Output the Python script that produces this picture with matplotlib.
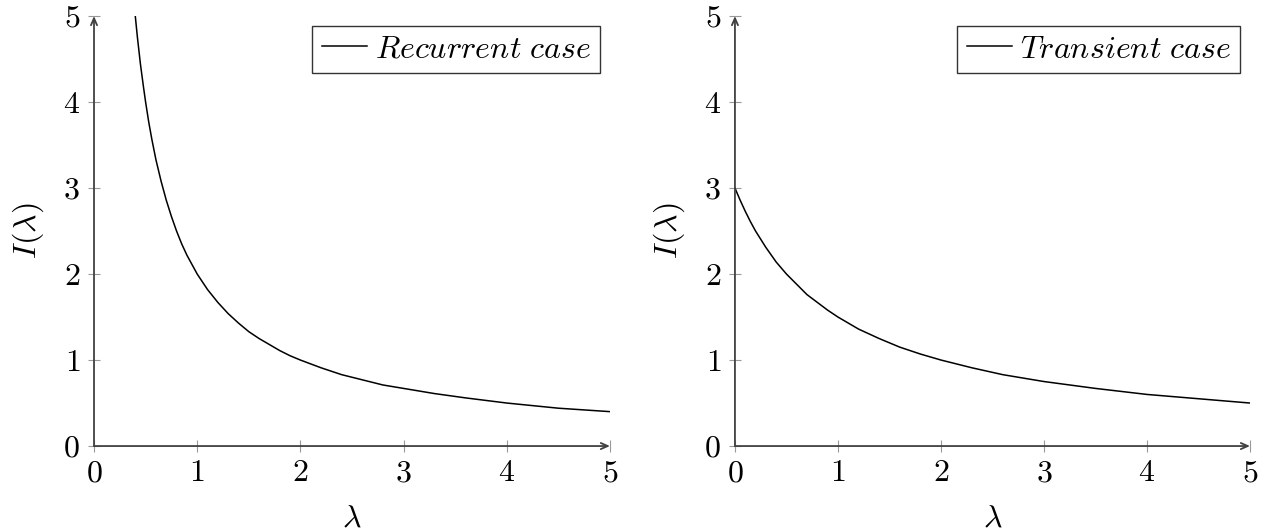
import matplotlib.pyplot as plt

plt.rcParams['mathtext.fontset'] = 'cm'
plt.rcParams['font.family'] = 'serif'
plt.rcParams['font.serif'] = ['cmr10', 'DejaVu Serif']

lam_rec = [0.4, 0.42, 0.45, 0.48, 0.5, 0.53, 0.56, 0.6, 0.65, 0.7, 0.75, 0.8, 0.85, 0.9,
           0.95, 1.0, 1.1, 1.2, 1.3, 1.4, 1.5, 1.6, 1.7, 1.8, 1.9, 2.0, 2.2, 2.4, 2.6,
           2.8, 3.0, 3.3, 3.6, 4.0, 4.5, 5.0]
I_rec = [5.0, 4.76, 4.44, 4.17, 4.0, 3.77, 3.57, 3.33, 3.08, 2.86, 2.67, 2.5, 2.35, 2.22,
         2.11, 2.0, 1.82, 1.67, 1.54, 1.43, 1.33, 1.25, 1.18, 1.11, 1.05, 1.0, 0.91, 0.83,
         0.77, 0.71, 0.67, 0.61, 0.56, 0.5, 0.44, 0.4]

lam_tr = [0.0, 0.05, 0.1, 0.15, 0.2, 0.3, 0.4, 0.5, 0.6, 0.7, 0.8, 0.9, 1.0, 1.2, 1.4,
          1.6, 1.8, 2.0, 2.3, 2.6, 3.0, 3.5, 4.0, 4.5, 5.0]
I_tr = [3.0, 2.86, 2.73, 2.61, 2.5, 2.31, 2.14, 2.0, 1.88, 1.76, 1.67, 1.58, 1.5, 1.36,
        1.25, 1.15, 1.07, 1.0, 0.91, 0.83, 0.75, 0.67, 0.6, 0.55, 0.5]

ticks = [0, 1, 2, 3, 4, 5]
tick_labels = ['$%d$' % t for t in ticks]

fig = plt.figure(figsize=(12.86, 5.31), dpi=100)
ax1 = fig.add_axes([0.0731, 0.160, 0.4012, 0.8098])
ax2 = fig.add_axes([0.5715, 0.160, 0.4005, 0.8098])

panels = [(ax1, lam_rec, I_rec, r'$Recurrent\ case$'),
          (ax2, lam_tr, I_tr, r'$Transient\ case$')]

for ax, x, y, name in panels:
    ax.plot(x, y, color='black', lw=1.1, label=name)
    ax.set_xlim(0, 5)
    ax.set_ylim(0, 5)
    for s in ax.spines.values():
        s.set_visible(False)
    # axis lines with arrow heads
    for end in [(1, 0), (0, 1)]:
        ax.annotate('', xy=end, xytext=(0, 0), xycoords='axes fraction',
                    arrowprops=dict(arrowstyle='->,head_length=0.5,head_width=0.22',
                                    color='#404040', lw=1.3, shrinkA=0, shrinkB=0))
    ax.set_xticks(ticks)
    ax.set_xticklabels(tick_labels)
    ax.set_yticks(ticks)
    ax.set_yticklabels(tick_labels)
    ax.tick_params(direction='inout', length=8, width=0.8, color='#999999',
                   labelsize=23, pad=6)
    ax.set_xlabel(r'$\lambda$', fontsize=23, labelpad=13)
    ax.set_ylabel(r'$I(\lambda)$', fontsize=23, labelpad=12)
    leg = ax.legend(loc='upper right', fontsize=23, frameon=True, fancybox=False,
                    borderaxespad=0.3, handlelength=1.4, handletextpad=0.25,
                    borderpad=0.3)
    leg.get_frame().set_edgecolor('black')
    leg.get_frame().set_linewidth(1.0)

fig.savefig('out.png', dpi=100)
